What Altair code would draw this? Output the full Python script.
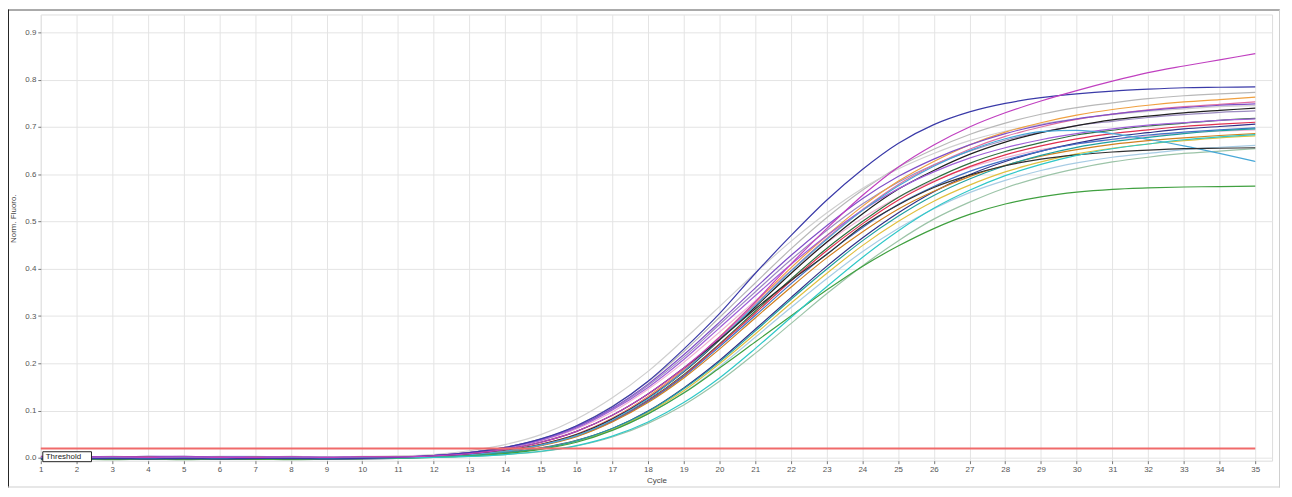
import altair as alt
import pandas as pd

cycles = list(range(1, 36))
threshold_value = 0.02
threshold_label = "Threshold"

# one list per well, cycles 1..35 (normalised fluorescence)
w_magenta = [0.002, 0.001, 0.002, 0.001, 0.002, 0.001, 0.001, 0.002, 0.001, 0.002, 0.002,
             0.004, 0.009, 0.018, 0.033, 0.056, 0.090, 0.135, 0.190, 0.255, 0.330, 0.410, 0.485,
             0.555, 0.615, 0.662, 0.700, 0.730, 0.755, 0.777, 0.797, 0.815, 0.829, 0.842, 0.855]
w_blue = [-0.002, -0.002, -0.001, -0.002, -0.001, -0.002, -0.001, -0.001, -0.002, -0.001, 0.001,
          0.005, 0.011, 0.022, 0.040, 0.068, 0.108, 0.162, 0.230, 0.305, 0.390, 0.470, 0.545,
          0.610, 0.665, 0.705, 0.732, 0.750, 0.762, 0.770, 0.776, 0.780, 0.783, 0.784, 0.785]
w_gray1 = [0.003, 0.002, 0.003, 0.002, 0.003, 0.002, 0.002, 0.003, 0.002, 0.002, 0.003,
           0.005, 0.012, 0.022, 0.040, 0.068, 0.109, 0.161, 0.225, 0.297, 0.370, 0.442, 0.508,
           0.566, 0.615, 0.653, 0.684, 0.708, 0.727, 0.741, 0.751, 0.760, 0.766, 0.770, 0.773]
w_orange = [0.000, 0.001, 0.000, 0.001, 0.000, 0.001, 0.000, 0.001, 0.000, 0.001, 0.001,
            0.003, 0.008, 0.015, 0.029, 0.050, 0.084, 0.130, 0.187, 0.256, 0.329, 0.402, 0.470,
            0.532, 0.585, 0.627, 0.662, 0.689, 0.709, 0.725, 0.737, 0.746, 0.753, 0.758, 0.763]
w_pink = [0.001, 0.000, 0.001, 0.000, 0.001, 0.000, 0.001, 0.000, 0.001, 0.000, 0.001,
          0.003, 0.008, 0.015, 0.029, 0.050, 0.083, 0.128, 0.185, 0.253, 0.325, 0.396, 0.464,
          0.525, 0.578, 0.619, 0.653, 0.680, 0.700, 0.716, 0.727, 0.736, 0.743, 0.748, 0.753]
w_purple = [0.003, 0.003, 0.002, 0.003, 0.003, 0.002, 0.002, 0.002, 0.001, 0.002, 0.002,
            0.005, 0.011, 0.022, 0.039, 0.066, 0.105, 0.156, 0.218, 0.287, 0.359, 0.428, 0.491,
            0.548, 0.595, 0.632, 0.662, 0.686, 0.704, 0.717, 0.727, 0.735, 0.741, 0.746, 0.749]
w_black = [0.000, -0.001, 0.000, -0.001, 0.000, -0.001, 0.000, -0.001, 0.000, 0.000, 0.001,
           0.003, 0.007, 0.015, 0.028, 0.049, 0.082, 0.126, 0.182, 0.249, 0.319, 0.390, 0.456,
           0.516, 0.568, 0.608, 0.642, 0.668, 0.688, 0.703, 0.715, 0.723, 0.730, 0.735, 0.740]
w_dkgreen = [-0.003, -0.003, -0.002, -0.003, -0.002, -0.003, -0.002, -0.003, -0.002, -0.001, 0.000,
             0.003, 0.007, 0.014, 0.027, 0.048, 0.079, 0.122, 0.176, 0.241, 0.310, 0.378, 0.443,
             0.500, 0.551, 0.590, 0.623, 0.648, 0.667, 0.683, 0.693, 0.702, 0.708, 0.714, 0.718]
w_violet = [-0.001, -0.002, -0.001, -0.003, -0.002, -0.001, -0.002, -0.001, 0.000, 0.001, 0.002,
            0.005, 0.011, 0.021, 0.037, 0.063, 0.101, 0.149, 0.208, 0.275, 0.343, 0.409, 0.470,
            0.524, 0.569, 0.605, 0.634, 0.656, 0.673, 0.686, 0.696, 0.704, 0.709, 0.714, 0.717]
w_red = [0.001, 0.000, 0.001, 0.001, 0.000, 0.001, 0.000, 0.001, 0.000, 0.001, 0.001,
         0.003, 0.007, 0.014, 0.027, 0.047, 0.078, 0.121, 0.174, 0.239, 0.306, 0.374, 0.438,
         0.495, 0.545, 0.584, 0.616, 0.641, 0.660, 0.675, 0.686, 0.694, 0.701, 0.706, 0.710]
w_navy = [-0.003, -0.002, -0.003, -0.002, -0.003, -0.002, -0.002, -0.003, -0.002, -0.002, -0.001,
          0.002, 0.005, 0.011, 0.021, 0.037, 0.062, 0.099, 0.148, 0.206, 0.272, 0.339, 0.405,
          0.465, 0.518, 0.563, 0.599, 0.627, 0.649, 0.666, 0.679, 0.688, 0.696, 0.701, 0.706]
w_steel = [0.000, 0.000, -0.001, 0.000, -0.001, 0.000, 0.000, -0.001, 0.000, 0.000, 0.001,
           0.003, 0.007, 0.014, 0.027, 0.046, 0.077, 0.119, 0.172, 0.235, 0.301, 0.368, 0.431,
           0.487, 0.536, 0.574, 0.606, 0.630, 0.649, 0.664, 0.674, 0.683, 0.689, 0.694, 0.698]
w_amber = [0.001, 0.000, 0.000, 0.001, 0.000, 0.000, 0.001, 0.000, 0.000, 0.001, 0.001,
           0.003, 0.007, 0.014, 0.026, 0.045, 0.076, 0.117, 0.169, 0.230, 0.296, 0.361, 0.423,
           0.478, 0.526, 0.564, 0.595, 0.619, 0.638, 0.652, 0.663, 0.671, 0.677, 0.682, 0.686]
w_yellow = [0.000, 0.000, 0.000, 0.000, 0.000, 0.000, 0.000, 0.000, 0.000, 0.000, 0.001,
            0.002, 0.005, 0.010, 0.020, 0.036, 0.060, 0.096, 0.142, 0.199, 0.262, 0.327, 0.390,
            0.449, 0.500, 0.543, 0.577, 0.605, 0.626, 0.643, 0.655, 0.664, 0.671, 0.677, 0.681]
w_teal = [-0.001, -0.001, 0.000, -0.001, 0.000, -0.001, 0.000, -0.001, 0.000, 0.000, 0.000,
          0.002, 0.005, 0.011, 0.020, 0.036, 0.062, 0.098, 0.146, 0.203, 0.268, 0.335, 0.399,
          0.459, 0.511, 0.555, 0.590, 0.618, 0.640, 0.657, 0.669, 0.678, 0.686, 0.692, 0.696]
w_cyanfall = [0.000, 0.000, 0.001, 0.000, 0.001, 0.000, 0.000, 0.001, 0.000, 0.000, 0.001,
              0.003, 0.007, 0.014, 0.027, 0.047, 0.080, 0.125, 0.183, 0.250, 0.322, 0.395, 0.462,
              0.523, 0.575, 0.617, 0.650, 0.675, 0.690, 0.693, 0.686, 0.674, 0.660, 0.644, 0.627]
w_black2 = [-0.002, -0.002, -0.003, -0.002, -0.002, -0.003, -0.002, -0.002, -0.001, -0.001, 0.000,
            0.004, 0.009, 0.018, 0.033, 0.056, 0.090, 0.135, 0.190, 0.250, 0.315, 0.375, 0.430,
            0.490, 0.535, 0.572, 0.598, 0.618, 0.632, 0.641, 0.647, 0.651, 0.654, 0.655, 0.656]
w_sage = [0.000, 0.000, 0.000, 0.000, 0.000, 0.000, 0.000, 0.000, 0.000, 0.000, 0.000,
          0.001, 0.003, 0.007, 0.013, 0.025, 0.044, 0.073, 0.112, 0.162, 0.221, 0.284, 0.347,
          0.406, 0.459, 0.505, 0.541, 0.571, 0.594, 0.612, 0.626, 0.636, 0.644, 0.649, 0.654]
w_paleblue = [0.002, 0.003, 0.002, 0.003, 0.002, 0.003, 0.003, 0.002, 0.002, 0.001, 0.001,
              0.002, 0.005, 0.010, 0.019, 0.035, 0.059, 0.093, 0.138, 0.193, 0.255, 0.318, 0.379,
              0.436, 0.485, 0.527, 0.561, 0.587, 0.608, 0.624, 0.636, 0.644, 0.652, 0.657, 0.661]
w_green = [-0.004, -0.003, -0.004, -0.003, -0.004, -0.003, -0.003, -0.004, -0.003, -0.002, -0.001,
           0.001, 0.004, 0.009, 0.018, 0.033, 0.058, 0.093, 0.137, 0.190, 0.245, 0.300, 0.355,
           0.405, 0.448, 0.485, 0.515, 0.537, 0.552, 0.562, 0.568, 0.571, 0.573, 0.574, 0.575]
w_gray2 = [0.002, 0.002, 0.001, 0.002, 0.001, 0.002, 0.001, 0.002, 0.002, 0.003, 0.004,
           0.007, 0.015, 0.028, 0.049, 0.082, 0.127, 0.183, 0.250, 0.320, 0.391, 0.458, 0.518,
           0.570, 0.611, 0.644, 0.671, 0.691, 0.706, 0.717, 0.726, 0.733, 0.738, 0.743, 0.745]
w_ltpink = [0.001, 0.001, 0.000, 0.001, 0.001, 0.000, 0.001, 0.001, 0.000, 0.001, 0.002,
            0.005, 0.010, 0.020, 0.036, 0.061, 0.097, 0.145, 0.202, 0.266, 0.332, 0.396, 0.455,
            0.507, 0.551, 0.586, 0.614, 0.635, 0.652, 0.664, 0.673, 0.681, 0.687, 0.691, 0.694]
w_cyan = [0.000, -0.001, 0.000, -0.001, 0.000, -0.001, 0.000, 0.000, -0.001, 0.000, 0.000,
          0.001, 0.003, 0.007, 0.014, 0.026, 0.046, 0.076, 0.117, 0.169, 0.231, 0.297, 0.362,
          0.424, 0.480, 0.528, 0.566, 0.597, 0.621, 0.640, 0.654, 0.664, 0.673, 0.679, 0.684]
w_lilac = [0.002, 0.001, 0.002, 0.001, 0.002, 0.001, 0.002, 0.001, 0.001, 0.002, 0.002,
           0.005, 0.011, 0.021, 0.038, 0.065, 0.103, 0.153, 0.213, 0.282, 0.351, 0.419, 0.481,
           0.537, 0.583, 0.620, 0.649, 0.672, 0.689, 0.703, 0.712, 0.720, 0.726, 0.731, 0.734]

well_names = ["w_gray1", "w_gray2", "w_sage", "w_paleblue", "w_ltpink", "w_lilac",
              "w_orange", "w_pink", "w_purple", "w_black", "w_dkgreen", "w_violet",
              "w_red", "w_navy", "w_steel", "w_amber", "w_yellow", "w_teal",
              "w_cyanfall", "w_black2", "w_green", "w_cyan", "w_blue", "w_magenta"]
well_values = [w_gray1, w_gray2, w_sage, w_paleblue, w_ltpink, w_lilac,
               w_orange, w_pink, w_purple, w_black, w_dkgreen, w_violet,
               w_red, w_navy, w_steel, w_amber, w_yellow, w_teal,
               w_cyanfall, w_black2, w_green, w_cyan, w_blue, w_magenta]
well_colors = ["#b8b8b8", "#cfcfcf", "#9cc4a8", "#a8cce4", "#f0b4d4", "#9c8cc0",
               "#f0a040", "#e070a0", "#8050c8", "#202020", "#2f6f3f", "#a060d8",
               "#e03050", "#303088", "#4070c8", "#d08020", "#e0c040", "#20a0a0",
               "#48a8d8", "#303030", "#40a040", "#30c8c8", "#3a3aa8", "#c040c0"]

rows = []
for name, vals in zip(well_names, well_values):
    for c, v in zip(cycles, vals):
        rows.append({"well": name, "cycle": c, "fluor": v})
df = pd.DataFrame(rows)

W, H = 1239, 449
xscale = alt.Scale(domain=[1, 35.47], nice=False, zero=False)
yscale = alt.Scale(domain=[-0.006, 0.938], nice=False, zero=False)

curves = alt.Chart(df).mark_line(strokeWidth=1.2, interpolate="monotone", clip=True).encode(
    x=alt.X("cycle:Q", scale=xscale,
            axis=alt.Axis(title="Cycle", values=cycles, tickCount=60, format="d", grid=True,
                          gridColor="#e4e4e4", tickSize=3, labelPadding=2, titlePadding=3,
                          labelFontSize=8, titleFontSize=8, labelColor="#555",
                          titleColor="#444", tickColor="#777", domain=False,
                          labelOverlap=False, labelBound=False, labelFlush=False,
                          titleFontWeight="normal", labelFont="Liberation Sans",
                          titleFont="Liberation Sans")),
    y=alt.Y("fluor:Q", scale=yscale,
            axis=alt.Axis(title="Norm. Fluoro.", values=[0.0, 0.1, 0.2, 0.3, 0.4, 0.5, 0.6, 0.7, 0.8, 0.9],
                          tickCount=20,
                          format=".1f", grid=True, gridColor="#e4e4e4", tickSize=3,
                          labelPadding=2, labelFontSize=8, titleFontSize=8,
                          labelColor="#555", titleColor="#444", tickColor="#777",
                          domain=False, titleFontWeight="normal", titleX=-23, titleY=205,
                          labelOverlap=False,
                          labelFont="Liberation Sans", titleFont="Liberation Sans")),
    color=alt.Color("well:N", scale=alt.Scale(domain=well_names, range=well_colors), legend=None),
    detail="well:N",
)

thr_df = pd.DataFrame({"start": [cycles[0]], "end": [cycles[-1]], "thr": [threshold_value],
                       "label": [threshold_label]})
thr_line = alt.Chart(thr_df).mark_rule(color="#f06a6a", strokeWidth=2).encode(
    x=alt.X("start:Q", scale=xscale), x2="end:Q", y=alt.Y("thr:Q", scale=yscale)
)
thr_box = alt.Chart(thr_df).mark_rect(fill="white", stroke="#222", strokeWidth=1).encode(
    x=alt.value(2), x2=alt.value(51), y=alt.value(440), y2=alt.value(450)
)
thr_text = alt.Chart(thr_df).mark_text(align="left", baseline="middle", fontSize=8,
                                       font="Liberation Sans", color="#222").encode(
    x=alt.value(5), y=alt.value(445.5), text="label:N"
)

frame_top = alt.Chart(thr_df).mark_rule(color="#555", strokeWidth=1).encode(
    x=alt.value(-33), x2=alt.value(1247), y=alt.value(-4.5))
frame_left = alt.Chart(thr_df).mark_rule(color="#222", strokeWidth=1).encode(
    x=alt.value(-32.5), y=alt.value(-5), y2=alt.value(476))
frame_bottom = alt.Chart(thr_df).mark_rule(color="#cfcfcf", strokeWidth=1).encode(
    x=alt.value(-33), x2=alt.value(1247), y=alt.value(475.5))
frame_right = alt.Chart(thr_df).mark_rule(color="#cfcfcf", strokeWidth=1).encode(
    x=alt.value(1246.5), y=alt.value(-5), y2=alt.value(476))

chart = alt.layer(curves, thr_line, thr_box, thr_text,
                  frame_top, frame_left, frame_bottom, frame_right).properties(
    width=W, height=H,
    autosize=alt.AutoSizeParams(type="none"),
    padding={"left": 33, "top": 5, "right": 12, "bottom": 30},
).configure_view(stroke="#555", strokeWidth=2).configure(background="white")

chart.save("out.html", embed_options={"renderer": "svg", "actions": False})
